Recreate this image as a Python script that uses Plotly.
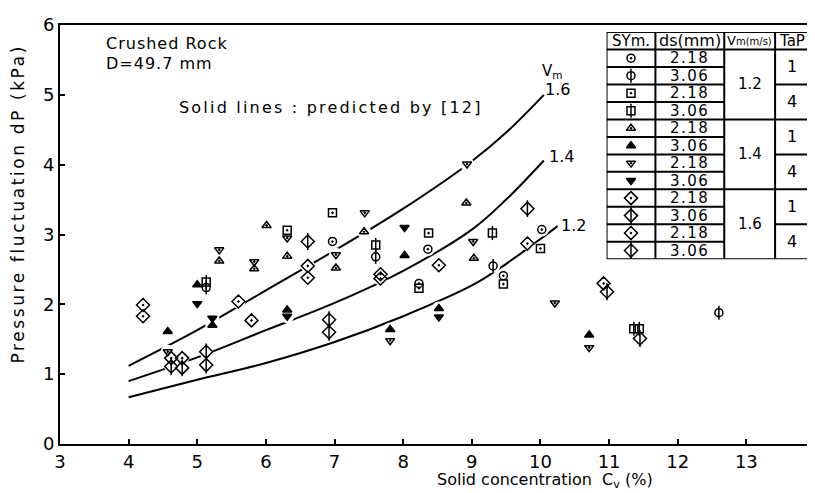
import plotly.graph_objects as go

# ---------------- data ----------------
# predicted curves (solid lines)
c16_cv = [4.0, 5.0, 6.0, 7.0, 8.0, 9.0, 9.5, 10.05]
c16_dp = [1.12, 1.63, 2.20, 2.77, 3.37, 4.05, 4.46, 5.00]
c14_cv = [4.0, 5.0, 6.0, 7.0, 8.0, 9.0, 9.5, 10.05]
c14_dp = [0.90, 1.24, 1.63, 2.02, 2.48, 3.07, 3.50, 4.06]
c12_cv = [4.0, 5.0, 6.0, 7.0, 8.0, 9.0, 9.5, 10.25]
c12_dp = [0.67, 0.92, 1.16, 1.46, 1.83, 2.27, 2.58, 3.12]

# measured points (Cv %, dP kPa)
s1_cv = [6.97, 8.36, 10.02, 9.46, 8.23]           # ds 2.18, Vm 1.2, Tap 1
s1_dp = [2.90, 2.79, 3.07, 2.41, 2.30]
s2_cv = [5.13, 7.60, 9.31, 12.60]                 # ds 3.06, Vm 1.2, Tap 1
s2_dp = [2.24, 2.68, 2.55, 1.88]
s3_cv = [6.31, 6.97, 8.37, 10.00, 9.46, 8.23]     # ds 2.18, Vm 1.2, Tap 4
s3_dp = [3.06, 3.31, 3.02, 2.80, 2.29, 2.23]
s4_cv = [5.13, 7.60, 9.30, 11.36, 11.44]          # ds 3.06, Vm 1.2, Tap 4
s4_dp = [2.32, 2.85, 3.02, 1.65, 1.65]
s5_cv = [5.32, 6.01, 6.31, 7.02, 7.43, 8.92, 9.03, 5.83]   # ds 2.18, Vm 1.4, Tap 1
s5_dp = [2.62, 3.13, 2.69, 2.52, 3.04, 3.45, 2.66, 2.51]
s6_cv = [4.57, 5.00, 5.22, 6.31, 8.02, 8.52, 7.81, 10.71]  # ds 3.06, Vm 1.4, Tap 1
s6_dp = [1.61, 2.28, 1.70, 1.92, 2.70, 1.94, 1.64, 1.56]
s7_cv = [4.57, 5.32, 5.83, 6.31, 7.02, 7.44, 8.93, 9.02, 10.21, 7.81, 10.71]  # ds 2.18, Vm 1.4, Tap 4
s7_dp = [1.32, 2.78, 2.61, 2.95, 2.71, 3.31, 4.01, 2.90, 2.02, 1.48, 1.38]
s8_cv = [5.00, 5.22, 8.02, 8.52, 6.31]            # ds 3.06, Vm 1.4, Tap 4
s8_dp = [2.01, 1.80, 3.10, 1.82, 1.83]
s9_cv = [4.21, 4.21, 5.60, 6.61, 5.79, 7.67, 9.81, 10.92]   # ds 2.18, Vm 1.6, Tap 1
s9_dp = [1.99, 1.83, 2.04, 2.55, 1.77, 2.43, 2.87, 2.30]
s10_cv = [4.62, 5.13, 6.61, 6.92, 9.81, 10.97]    # ds 3.06, Vm 1.6, Tap 1
s10_dp = [1.11, 1.32, 2.90, 1.78, 3.37, 2.18]
s11_cv = [4.62, 4.78, 6.61, 7.67, 8.52]           # ds 2.18, Vm 1.6, Tap 4
s11_dp = [1.23, 1.23, 2.38, 2.37, 2.56]
s12_cv = [4.78, 5.13, 6.92, 11.45]                # ds 3.06, Vm 1.6, Tap 4
s12_dp = [1.09, 1.13, 1.60, 1.51]

x_ticks = [3, 4, 5, 6, 7, 8, 9, 10, 11, 12, 13, 14]
y_ticks = [0, 1, 2, 3, 4, 5, 6]

ds_labels = ["2.18", "3.06", "2.18", "3.06", "2.18", "3.06",
             "2.18", "3.06", "2.18", "3.06", "2.18", "3.06"]
vm_labels = ["1.2", "1.4", "1.6"]
tap_labels = ["1", "4", "1", "4", "1", "4"]
curve_labels = ["1.6", "1.4", "1.2"]

# ---------------- styling ----------------
FONT = "DejaVu Sans"
series = [
    (s1_cv, s1_dp, "circle-open-dot", False),
    (s2_cv, s2_dp, "circle-open", True),
    (s3_cv, s3_dp, "square-open-dot", False),
    (s4_cv, s4_dp, "square-open", True),
    (s5_cv, s5_dp, "triangle-up-open-dot", False),
    (s6_cv, s6_dp, "triangle-up", False),
    (s7_cv, s7_dp, "triangle-down-open-dot", False),
    (s8_cv, s8_dp, "triangle-down", False),
    (s9_cv, s9_dp, "diamond-open-dot", False),
    (s10_cv, s10_dp, "diamond-open", True),
    (s11_cv, s11_dp, "diamond-open-dot", False),
    (s12_cv, s12_dp, "diamond-open", True),
]

def msize(sym):
    if sym.startswith("diamond"):
        return 10
    return 8

fig = go.Figure()

# curves
for cx, cy in [(c16_cv, c16_dp), (c14_cv, c14_dp), (c12_cv, c12_dp)]:
    fig.add_trace(go.Scatter(x=cx, y=cy, mode="lines",
                             line=dict(color="black", width=2, shape="spline", smoothing=1.0),
                             hoverinfo="skip", showlegend=False))

# white underlay to break the lines around markers
for cx, cy, sym, bar in series:
    fig.add_trace(go.Scatter(x=cx, y=cy, mode="markers",
                             marker=dict(symbol="circle", size=14, color="white"),
                             hoverinfo="skip", showlegend=False))

def add_markers(x, y, sym, bar, xa="x", ya="y"):
    s = msize(sym)
    fig.add_trace(go.Scatter(x=x, y=y, mode="markers", xaxis=xa, yaxis=ya,
                             marker=dict(symbol=sym, size=s, color="black",
                                         line=dict(color="black", width=1.5)),
                             showlegend=False))
    if bar:
        fig.add_trace(go.Scatter(x=x, y=y, mode="markers", xaxis=xa, yaxis=ya,
                                 marker=dict(symbol="line-ns-open", size=s + 2, color="black",
                                             line=dict(color="black", width=1.5)),
                                 hoverinfo="skip", showlegend=False))

for cx, cy, sym, bar in series:
    add_markers(cx, cy, sym, bar)

# ---------------- table (own axes) ----------------
TW = 203
col_x = [0, 49, 118, 169, TW]
nrow = 12
for i, (cx, cy, sym, bar) in enumerate(series):
    add_markers([24.5], [i + 1.5], sym, bar, "x2", "y2")

shapes = []
lw = 2
shapes.append(dict(type="rect", xref="x2", yref="y2", x0=0, x1=TW, y0=0, y1=nrow + 1,
                   line=dict(color="black", width=lw), fillcolor="white", layer="below"))
for xv in col_x[1:-1]:
    shapes.append(dict(type="line", xref="x2", yref="y2", x0=xv, x1=xv, y0=0, y1=nrow + 1,
                       line=dict(color="black", width=lw)))
shapes.append(dict(type="line", xref="x2", yref="y2", x0=0, x1=TW, y0=1, y1=1,
                   line=dict(color="black", width=lw)))
for r in range(2, nrow + 1):
    shapes.append(dict(type="line", xref="x2", yref="y2", x0=0, x1=col_x[2], y0=r, y1=r,
                       line=dict(color="black", width=lw)))
for r in [5, 9]:
    shapes.append(dict(type="line", xref="x2", yref="y2", x0=col_x[2], x1=TW, y0=r, y1=r,
                       line=dict(color="black", width=lw)))
for r in [3, 7, 11]:
    shapes.append(dict(type="line", xref="x2", yref="y2", x0=col_x[3], x1=TW, y0=r, y1=r,
                       line=dict(color="black", width=lw)))

ann = []
def t(x, y, text, size=16, xref="x2", yref="y2", xanchor="center", **kw):
    ann.append(dict(x=x, y=y, xref=xref, yref=yref, text=text, showarrow=False,
                    xanchor=xanchor, yanchor="middle",
                    font=dict(family=FONT, size=size, color="black"), **kw))

def ls(text, px):
    return "<span style='letter-spacing:%spx'>%s</span>" % (px, text)

t(24.5, 0.5, "SYm.", 15)
t(83.5, 0.5, "ds(mm)", 16)
t(143.5, 0.5, "V<span style='font-size:10px'>m(m/s)</span>", 13)
t(186, 0.5, "TaP", 15)
for i, lab in enumerate(ds_labels):
    t(83.5, i + 1.5, ls(lab, 1.5), 15)
for i, lab in enumerate(vm_labels):
    t(143.5, 3 + 4 * i, lab, 15)
for i, lab in enumerate(tap_labels):
    t(186, 2 + 2 * i, lab, 16)

# ---------------- main annotations ----------------
t(3.64, 5.74, ls("Crushed Rock", 1), 16, "x", "y", "left")
t(3.64, 5.45, ls("D=49.7 mm", 1), 16, "x", "y", "left")
t(4.70, 4.82, ls("Solid lines : predicted by [12]", 2.2), 16, "x", "y", "left")
t(10.0, 5.33, "V<sub>m</sub>", 15, "x", "y", "left")
t(10.04, 5.07, curve_labels[0], 16, "x", "y", "left")
t(10.1, 4.12, curve_labels[1], 16, "x", "y", "left")
t(10.27, 3.13, curve_labels[2], 16, "x", "y", "left")
t(0.642, -0.088, "Solid concentration  C<sub>v</sub> (%)", 16, "paper", "paper", "center")
ann.append(dict(x=-0.055, y=0.575, xref="paper", yref="paper", showarrow=False,
                xanchor="center", yanchor="middle",
                text=ls("Pressure fluctuation dP (kPa)", 2.6), textangle=-90,
                font=dict(family=FONT, size=17, color="black")))

L, R, T, B = 52, 6, 14, 57
W, H = 815, 493
pw, ph = W - L - R, H - T - B
tx0 = (600 - L) / pw
tx1 = (803 - L) / pw
ty1 = (436 - 21) / ph
ty0 = (436 - 250) / ph

fig.update_layout(
    width=W, height=H,
    margin=dict(l=L, r=R, t=T, b=B),
    paper_bgcolor="white", plot_bgcolor="white",
    showlegend=False,
    shapes=shapes, annotations=ann,
    font=dict(family=FONT, color="black"),
    xaxis=dict(range=[3, 14], tickvals=x_ticks, ticktext=[str(v) for v in x_ticks],
               showgrid=False, zeroline=False, showline=True, linecolor="black", linewidth=2,
               mirror=True, ticks="inside", ticklen=5, tickwidth=1.5, tickcolor="black",
               tickfont=dict(family=FONT, size=18, color="black")),
    yaxis=dict(range=[0, 6], tickvals=y_ticks, ticktext=[str(v) for v in y_ticks],
               showgrid=False, zeroline=False, showline=True, linecolor="black", linewidth=2,
               mirror=True, ticks="inside", ticklen=5, tickwidth=1.5, tickcolor="black",
               tickfont=dict(family=FONT, size=18, color="black")),
    xaxis2=dict(domain=[tx0, tx1], range=[0, TW], visible=False, anchor="y2",
                fixedrange=True),
    yaxis2=dict(domain=[ty0, ty1], range=[nrow + 1, 0], visible=False, anchor="x2",
                fixedrange=True),
)

fig.write_html("out.html")
